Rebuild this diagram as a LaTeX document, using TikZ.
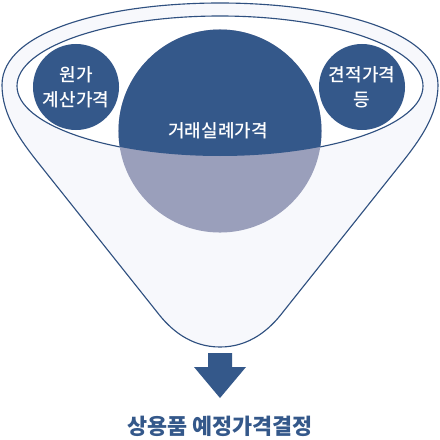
\documentclass[tikz,border=0pt]{standalone}
\usepackage{fontspec}
\setmainfont{Noto Sans CJK KR}
\newfontfamily\medfont{Noto Sans CJK KR Medium}
\usetikzlibrary{positioning, calc}
\definecolor{navy}{HTML}{34588A}
\definecolor{lavender}{HTML}{9A9FBB}
\definecolor{funnelfill}{HTML}{F7F8FC}
\definecolor{funnelline}{HTML}{2F5080}
\tikzset{
  funnel line/.style={
    draw=funnelline, line width=0.8pt
  },
  price circle/.style={
    circle, fill=navy, inner sep=0pt,
    minimum size=2.15cm,
    text=white, align=center,
    font=\medfont\fontsize{12.8}{17.5}\selectfont
  },
  result/.style={
    text=navy,
    font=\fontsize{15.5}{18}\selectfont\bfseries
  },
}
\begin{document}
\begin{tikzpicture}[x=0.025cm, y=-0.025cm]

  \useasboundingbox[fill=white] (0,0) rectangle (440,440);

  % Funnel
  \draw[funnel line, fill=funnelfill]
    (2,85) .. controls (2,30) and (110,3) .. (220,3)
    .. controls (330,3) and (438,30) .. (438,85)
    .. controls (438,115) and (420,140) .. (400,165)
    -- (283,312) .. controls (270,329) and (250,347) .. (220,347)
    .. controls (190,347) and (170,329) .. (157,312)
    -- (40,165) .. controls (20,140) and (2,115) .. (2,85) -- cycle;

  % Rim
  \draw[funnel line, fill=white] (220,86) ellipse [x radius=203, y radius=70];

  % Main price circle, split by the rim
  \node[circle, fill=lavender, inner sep=0pt, minimum size=5.075cm]
    (deal) at (220,131) {};
  \begin{scope}
    \clip (220,86) ellipse [x radius=203, y radius=70];
    \fill[navy] (deal.center) circle [radius=101.5];
  \end{scope}
  \node[text=white, font=\medfont\fontsize{12.8}{17.5}\selectfont]
    (dealtext) at (218,131) {거래실례가격};

  % Side price circles
  \node[price circle] (cost) at (76,87) {원가\\계산가격};
  \node[price circle] (quote) at (362,87) {견적가격\\등};

  % Arrow and result
  \coordinate (arrowtop) at (220,353);
  \fill[navy] ($(arrowtop)+(-12,0)$) -- ++(24,0) -- ++(0,14) -- ++(14,0)
    -- (220,398) -- (194,367) -- (208,367) -- cycle;
  \node[result] (decision) at (220,426) {상용품 예정가격결정};

\end{tikzpicture}
\end{document}
